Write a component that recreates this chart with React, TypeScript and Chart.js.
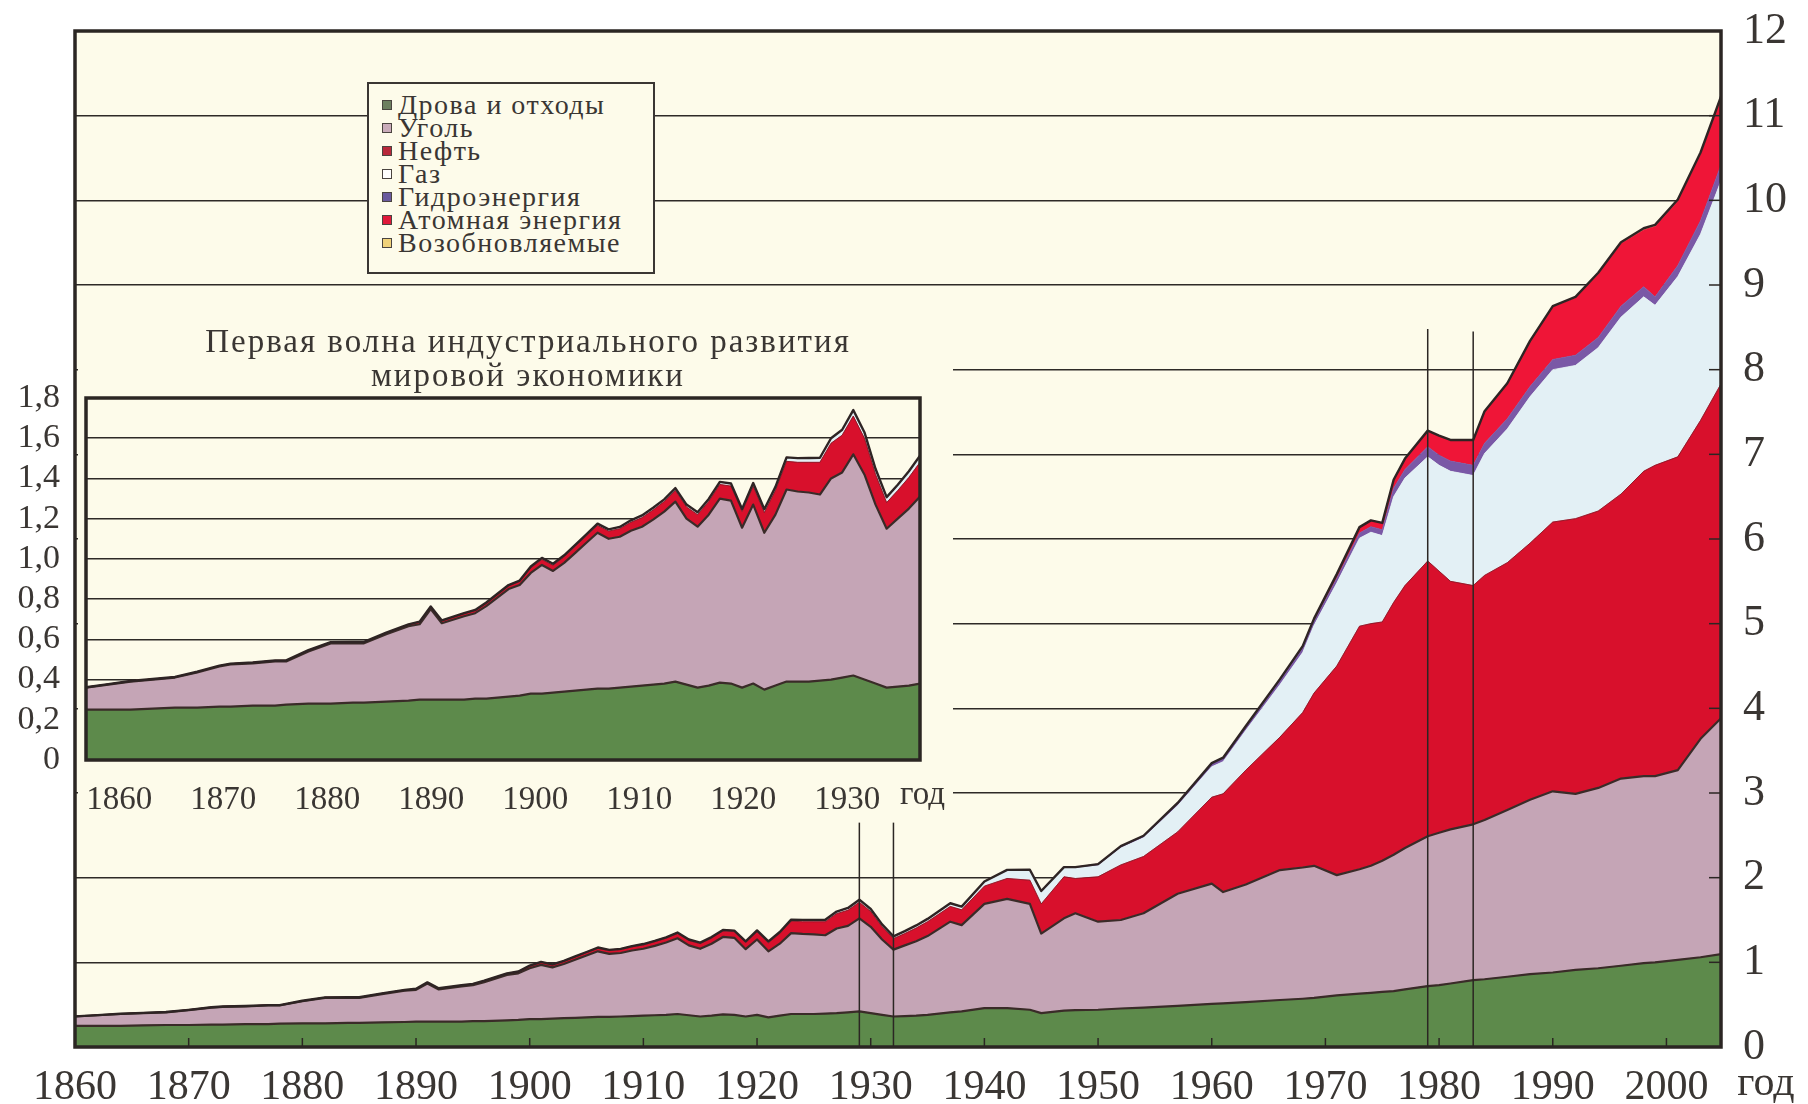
import React, { useEffect, useRef } from 'react';
import { Chart, registerables } from 'chart.js';

Chart.register(...registerables);

// ---------- data (billion t oil equivalent, stacked layers) ----------
const YEARS = [
  1860, 1862, 1864, 1866, 1868, 1870, 1872, 1873, 1875, 1877,
  1878, 1880, 1882, 1884, 1885, 1887, 1889, 1890, 1891, 1892,
  1894, 1895, 1896, 1898, 1899, 1900, 1901, 1902, 1903, 1904,
  1905, 1906, 1907, 1908, 1909, 1910, 1911, 1912, 1913, 1914,
  1915, 1916, 1917, 1918, 1919, 1920, 1921, 1922, 1923, 1924,
  1925, 1926, 1927, 1928, 1929, 1930, 1931, 1932, 1933, 1934,
  1935, 1937, 1938, 1940, 1942, 1944, 1945, 1947, 1948, 1950,
  1952, 1954, 1957, 1960, 1961, 1963, 1966, 1968, 1969, 1971,
  1973, 1974, 1975, 1976, 1977, 1979, 1980, 1981, 1983, 1984,
  1986, 1988, 1990, 1992, 1994, 1996, 1998, 1999, 2001, 2003,
  2005,
];

const WOOD = [
  0.25, 0.25, 0.25, 0.255, 0.26, 0.26, 0.265, 0.265, 0.27, 0.27,
  0.275, 0.28, 0.28, 0.285, 0.285, 0.29, 0.295, 0.3, 0.3, 0.3,
  0.3, 0.305, 0.305, 0.315, 0.32, 0.33, 0.33, 0.335, 0.34, 0.345,
  0.35, 0.355, 0.355, 0.36, 0.365, 0.37, 0.375, 0.38, 0.39, 0.375,
  0.36, 0.37, 0.385, 0.38, 0.36, 0.38, 0.35, 0.37, 0.39, 0.39,
  0.39, 0.395, 0.4, 0.41, 0.42, 0.4, 0.38, 0.36, 0.365, 0.37,
  0.38, 0.41, 0.42, 0.46, 0.46, 0.44, 0.4, 0.43, 0.435, 0.44,
  0.455, 0.465, 0.485, 0.51, 0.515, 0.53, 0.555, 0.57, 0.58, 0.61,
  0.63, 0.64, 0.65, 0.66, 0.68, 0.72, 0.73, 0.75, 0.79, 0.8,
  0.83, 0.86, 0.88, 0.91, 0.93, 0.96, 0.99, 1.0, 1.03, 1.06,
  1.1,
];

const COAL = [
  0.11, 0.125, 0.14, 0.145, 0.15, 0.175, 0.2, 0.21, 0.21, 0.22,
  0.215, 0.26, 0.3, 0.295, 0.295, 0.335, 0.37, 0.375, 0.45, 0.38,
  0.415, 0.425, 0.46, 0.535, 0.55, 0.6, 0.64, 0.605, 0.64, 0.685,
  0.73, 0.775, 0.745, 0.75, 0.775, 0.79, 0.82, 0.855, 0.895, 0.825,
  0.8, 0.85, 0.915, 0.91, 0.795, 0.89, 0.78, 0.85, 0.955, 0.945,
  0.94, 0.925, 1.0, 1.02, 1.1, 1.02, 0.89, 0.79, 0.835, 0.88,
  0.93, 1.07, 1.02, 1.23, 1.29, 1.25, 0.94, 1.09, 1.145, 1.04,
  1.045, 1.115, 1.325, 1.42, 1.315, 1.39, 1.535, 1.55, 1.56, 1.42,
  1.47, 1.5, 1.55, 1.61, 1.67, 1.77, 1.8, 1.82, 1.84, 1.88,
  1.97, 2.06, 2.14, 2.08, 2.13, 2.21, 2.21, 2.2, 2.24, 2.58,
  2.81,
];

const OIL = [
  0.002, 0.002, 0.003, 0.003, 0.003, 0.004, 0.004, 0.004, 0.005, 0.005,
  0.005, 0.006, 0.006, 0.007, 0.007, 0.008, 0.009, 0.01, 0.01, 0.011,
  0.012, 0.013, 0.014, 0.016, 0.018, 0.025, 0.027, 0.028, 0.03, 0.032,
  0.034, 0.036, 0.038, 0.04, 0.042, 0.045, 0.048, 0.05, 0.055, 0.058,
  0.06, 0.065, 0.07, 0.072, 0.08, 0.09, 0.1, 0.12, 0.14, 0.145,
  0.15, 0.16, 0.175, 0.185, 0.19, 0.18, 0.15, 0.13, 0.14, 0.155,
  0.17, 0.18, 0.18, 0.21, 0.24, 0.28, 0.35, 0.49, 0.41, 0.53,
  0.65, 0.67, 0.73, 1.02, 1.16, 1.35, 1.57, 1.83, 2.04, 2.47,
  2.87, 2.86, 2.82, 2.98, 3.1, 3.25, 3.09, 2.93, 2.82, 2.89,
  2.92, 3.03, 3.18, 3.25, 3.27, 3.36, 3.6, 3.67, 3.7, 3.76,
  3.97,
];

const GAS = [
  0, 0, 0, 0, 0, 0, 0, 0, 0, 0,
  0, 0, 0, 0, 0, 0, 0, 0.002, 0.002, 0.002,
  0.002, 0.002, 0.003, 0.003, 0.003, 0.004, 0.005, 0.005, 0.005, 0.005,
  0.005, 0.006, 0.006, 0.006, 0.007, 0.008, 0.008, 0.008, 0.009, 0.009,
  0.009, 0.01, 0.01, 0.01, 0.01, 0.012, 0.012, 0.013, 0.015, 0.016,
  0.017, 0.018, 0.02, 0.022, 0.025, 0.025, 0.023, 0.022, 0.024, 0.026,
  0.028, 0.03, 0.03, 0.045, 0.09, 0.11, 0.14, 0.1, 0.12, 0.13,
  0.2, 0.22, 0.31, 0.36, 0.38, 0.47, 0.62, 0.71, 0.8, 0.98,
  1.04, 1.08, 1.02, 1.25, 1.27, 1.23, 1.25, 1.3, 1.3, 1.44,
  1.58, 1.73, 1.8, 1.81, 1.93, 2.09, 2.06, 1.89, 2.13, 2.2,
  2.42,
];

const HYDRO = [
  0, 0, 0, 0, 0, 0, 0, 0, 0, 0,
  0, 0, 0, 0, 0, 0, 0, 0.001, 0.001, 0.001,
  0.001, 0.001, 0.001, 0.001, 0.001, 0.003, 0.003, 0.003, 0.003, 0.003,
  0.003, 0.003, 0.003, 0.003, 0.003, 0.003, 0.003, 0.003, 0.003, 0.003,
  0.003, 0.003, 0.003, 0.003, 0.003, 0.005, 0.005, 0.005, 0.005, 0.005,
  0.005, 0.005, 0.005, 0.005, 0.005, 0.005, 0.005, 0.005, 0.005, 0.005,
  0.005, 0.008, 0.008, 0.01, 0.012, 0.013, 0.013, 0.015, 0.015, 0.02,
  0.022, 0.025, 0.03, 0.035, 0.037, 0.04, 0.045, 0.05, 0.05, 0.055,
  0.06, 0.065, 0.07, 0.1, 0.1, 0.12, 0.12, 0.12, 0.12, 0.12,
  0.12, 0.12, 0.12, 0.12, 0.12, 0.13, 0.12, 0.1, 0.13, 0.16,
  0.19,
];

const NUCLEAR = [
  0, 0, 0, 0, 0, 0, 0, 0, 0, 0,
  0, 0, 0, 0, 0, 0, 0, 0, 0, 0,
  0, 0, 0, 0, 0, 0, 0, 0, 0, 0,
  0, 0, 0, 0, 0, 0, 0, 0, 0, 0,
  0, 0, 0, 0, 0, 0, 0, 0, 0, 0,
  0, 0, 0, 0, 0, 0, 0, 0, 0, 0,
  0, 0, 0, 0, 0, 0, 0, 0, 0, 0,
  0, 0, 0.003, 0.008, 0.01, 0.012, 0.02, 0.025, 0.03, 0.05,
  0.07, 0.075, 0.08, 0.1, 0.13, 0.19, 0.23, 0.25, 0.3, 0.38,
  0.42, 0.54, 0.62, 0.68, 0.75, 0.74, 0.67, 0.83, 0.76, 0.78,
  0.78,
];

const RENEWABLES = [
  0, 0, 0, 0, 0, 0, 0, 0, 0, 0,
  0, 0, 0, 0, 0, 0, 0, 0, 0, 0,
  0, 0, 0, 0, 0, 0, 0, 0, 0, 0,
  0, 0, 0, 0, 0, 0, 0, 0, 0, 0,
  0, 0, 0, 0, 0, 0, 0, 0, 0, 0,
  0, 0, 0, 0, 0, 0, 0, 0, 0, 0,
  0, 0, 0, 0, 0, 0, 0, 0, 0, 0,
  0, 0, 0, 0, 0, 0, 0, 0, 0, 0,
  0, 0, 0, 0, 0, 0, 0, 0, 0, 0,
  0, 0, 0.01, 0.01, 0.015, 0.015, 0.02, 0.02, 0.02, 0.025,
  0.03,
];

const SERIES = [WOOD, COAL, OIL, GAS, HYDRO, NUCLEAR, RENEWABLES];
const SERIES_LABELS = [
  'Дрова и отходы',
  'Уголь',
  'Нефть',
  'Газ',
  'Гидроэнергия',
  'Атомная энергия',
  'Возобновляемые',
];
const FILL_COLORS = ['#5d8a4b', '#c5a5b6', '#d8102c', '#e3f0f5', '#7a58a6', '#ef1537', '#efcf6e'];
const LEGEND_COLORS = ['#6d7f60', '#c9abba', '#b8283a', '#ffffff', '#6a5a9e', '#e0183a', '#f0d27a'];

const MAIN_X_TICKS = [1860, 1870, 1880, 1890, 1900, 1910, 1920, 1930, 1940, 1950, 1960, 1970, 1980, 1990, 2000];
const MAIN_Y_TICKS = [0, 1, 2, 3, 4, 5, 6, 7, 8, 9, 10, 11, 12];
const INSET_X_TICKS = [1860, 1870, 1880, 1890, 1900, 1910, 1920, 1930];
const INSET_Y_TICKS = [0, 0.2, 0.4, 0.6, 0.8, 1.0, 1.2, 1.4, 1.6, 1.8];
const MARKER_YEARS = [1929, 1932, 1979, 1983];
const MARKER_TOPS = [2.65, 2.65, 8.48, 8.45];

const INSET_TITLE = ['Первая волна индустриального развития', 'мировой экономики'];
const AXIS_UNIT = 'год';

// ---------- styling ----------
const FONT = '"Liberation Serif", "Times New Roman", serif';
const INK = '#2b2623';
const TEXT = '#3a3633';
const PLOT_BG = '#fdfbea';
const CLEAR = 'rgba(0,0,0,0)';

function buildDatasets(maxYear: number) {
  const idx = YEARS.map((_, i) => i).filter((i) => YEARS[i] <= maxYear);
  return SERIES.map((vals, s) => ({
    label: SERIES_LABELS[s],
    data: idx.map((i) => ({ x: YEARS[i], y: vals[i] })),
    fill: s === 0 ? 'origin' : '-1',
    backgroundColor: FILL_COLORS[s],
    borderColor: FILL_COLORS[s],
    borderWidth: 0.8,
    pointRadius: 0,
    pointHoverRadius: 0,
    tension: 0,
  }));
}

const OUTLINES = [
  { ds: 0, w: 2.2, c: '#3a2b28' },
  { ds: 1, w: 2.2, c: '#3a2b28' },
  { ds: 2, w: 1, c: 'rgba(90,20,30,0.55)' },
  { ds: 6, w: 2.4, c: '#2e2424' },
];

function decorPlugin(kind: 'main' | 'inset') {
  return {
    id: 'decor_' + kind,
    beforeDraw(chart: any) {
      const { ctx, chartArea: a } = chart;
      ctx.save();
      ctx.fillStyle = PLOT_BG;
      ctx.fillRect(a.left, a.top, a.right - a.left, a.bottom - a.top);
      ctx.restore();
    },
    afterDatasetsDraw(chart: any) {
      const { ctx, chartArea: a } = chart;
      const xs = chart.scales.x;
      const ys = chart.scales.y;
      ctx.save();
      ctx.beginPath();
      ctx.rect(a.left, a.top, a.right - a.left, a.bottom - a.top);
      ctx.clip();
      ctx.lineJoin = 'round';
      OUTLINES.forEach((o) => {
        const meta = chart.getDatasetMeta(o.ds);
        ctx.beginPath();
        meta.data.forEach((p: any, k: number) => (k ? ctx.lineTo(p.x, p.y) : ctx.moveTo(p.x, p.y)));
        ctx.lineWidth = o.w;
        ctx.strokeStyle = o.c;
        ctx.stroke();
      });
      if (kind === 'main') {
        ctx.strokeStyle = INK;
        ctx.lineWidth = 1.5;
        MARKER_YEARS.forEach((yr, i) => {
          const x = xs.getPixelForValue(yr);
          ctx.beginPath();
          ctx.moveTo(x, ys.getPixelForValue(MARKER_TOPS[i]));
          ctx.lineTo(x, ys.getPixelForValue(0));
          ctx.stroke();
        });
        MAIN_X_TICKS.forEach((v) => {
          const x = xs.getPixelForValue(v);
          ctx.beginPath();
          ctx.moveTo(x, a.bottom);
          ctx.lineTo(x, a.bottom - 9);
          ctx.stroke();
        });
        MAIN_Y_TICKS.forEach((v) => {
          const y = ys.getPixelForValue(v);
          ctx.beginPath();
          ctx.moveTo(a.right, y);
          ctx.lineTo(a.right - 12, y);
          ctx.stroke();
        });
      }
      ctx.restore();
      ctx.save();
      ctx.strokeStyle = INK;
      ctx.lineWidth = 3.5;
      ctx.strokeRect(a.left, a.top, a.right - a.left, a.bottom - a.top);
      ctx.restore();
    },
    afterDraw(chart: any) {
      const { ctx, chartArea: a } = chart;
      ctx.save();
      ctx.fillStyle = TEXT;
      ctx.textBaseline = 'alphabetic';
      if (kind === 'main') {
        ctx.font = `42px ${FONT}`;
        ctx.textAlign = 'center';
        ctx.fillText(AXIS_UNIT, a.right + 45, a.bottom + 48);
      } else {
        ctx.font = `33px ${FONT}`;
        ctx.textAlign = 'left';
        ctx.fillText(AXIS_UNIT, 900, a.bottom + 44);
      }
      ctx.restore();
    },
  };
}

function setTicks(values: number[]) {
  return (s: any) => {
    s.ticks = values.map((v) => ({ value: v }));
  };
}

export default function App() {
  const mainRef = useRef<HTMLCanvasElement>(null);
  const insetRef = useRef<HTMLCanvasElement>(null);

  useEffect(() => {
    const main = new Chart(mainRef.current as HTMLCanvasElement, {
      type: 'line',
      data: { datasets: buildDatasets(2100) as any },
      options: {
        animation: false,
        responsive: false,
        maintainAspectRatio: false,
        events: [],
        layout: { padding: { left: 75, top: 31, right: 0, bottom: 0 } },
        plugins: { legend: { display: false }, tooltip: { enabled: false } },
        scales: {
          x: {
            type: 'linear',
            min: 1860,
            max: 2004.8,
            afterBuildTicks: setTicks(MAIN_X_TICKS),
            afterFit: (s: any) => {
              s.height = 57;
            },
            grid: { display: false },
            border: { display: false },
            ticks: {
              color: TEXT,
              font: { family: FONT, size: 42 },
              padding: 8,
              maxRotation: 0,
              autoSkip: false,
              callback: (v: any) => String(v),
            },
          },
          y: {
            position: 'right',
            stacked: true,
            min: 0,
            max: 12,
            afterBuildTicks: setTicks(MAIN_Y_TICKS),
            afterFit: (s: any) => {
              s.width = 87;
            },
            grid: { color: '#2e2a27', lineWidth: 1.6, drawTicks: true, tickLength: 20, tickColor: CLEAR },
            border: { display: false },
            ticks: {
              color: TEXT,
              font: { family: FONT, size: 44, lineHeight: 1.0 },
              padding: 2,
              autoSkip: false,
              callback: (v: any) => String(v),
            },
          },
        },
      } as any,
      plugins: [decorPlugin('main')],
    });

    const inset = new Chart(insetRef.current as HTMLCanvasElement, {
      type: 'line',
      data: { datasets: buildDatasets(1935) as any },
      options: {
        animation: false,
        responsive: false,
        maintainAspectRatio: false,
        events: [],
        layout: { padding: { left: 0, top: 20, right: 40, bottom: 0 } },
        plugins: { legend: { display: false }, tooltip: { enabled: false } },
        scales: {
          x: { type: 'linear', min: 1860, max: 1935, display: false },
          xl: {
            type: 'linear',
            position: 'bottom',
            min: 1856.8,
            max: 1937,
            afterBuildTicks: setTicks(INSET_X_TICKS),
            afterFit: (s: any) => {
              s.height = 50;
            },
            grid: { display: false },
            border: { display: false },
            ticks: {
              color: TEXT,
              font: { family: FONT, size: 33 },
              padding: 13,
              maxRotation: 0,
              autoSkip: false,
              callback: (v: any) => String(v),
            },
          },
          y: {
            position: 'left',
            stacked: true,
            min: 0,
            max: 1.8,
            afterBuildTicks: setTicks(INSET_Y_TICKS),
            afterFit: (s: any) => {
              s.width = 86;
            },
            grid: { color: '#2e2a27', lineWidth: 1.6, drawTicks: true, tickLength: 24, tickColor: CLEAR },
            border: { display: false },
            ticks: {
              color: TEXT,
              font: { family: FONT, size: 34, lineHeight: 1.0 },
              padding: 2,
              autoSkip: false,
              callback: (v: any) => (v === 0 ? '0' : Number(v).toFixed(1).replace('.', ',')),
            },
          },
        },
      } as any,
      plugins: [decorPlugin('inset')],
    });

    return () => {
      main.destroy();
      inset.destroy();
    };
  }, []);

  return (
    <div
      style={{
        position: 'fixed',
        left: 0,
        top: 0,
        width: 1808,
        height: 1104,
        background: '#ffffff',
        overflow: 'hidden',
        fontFamily: FONT,
      }}
    >
      <canvas
        ref={mainRef}
        width={1808}
        height={1104}
        style={{ position: 'absolute', left: 0, top: 0, width: 1808, height: 1104 }}
      />
      {/* background panel of the inset (hides the main grid behind it) */}
      <div
        style={{
          position: 'absolute',
          left: 78,
          top: 300,
          width: 875,
          height: 515,
          background: PLOT_BG,
        }}
      />
      {/* legend */}
      <div
        style={{
          position: 'absolute',
          left: 367,
          top: 82,
          width: 288,
          height: 192,
          boxSizing: 'border-box',
          border: '2px solid #3a3633',
          background: PLOT_BG,
          padding: '9px 0 0 13px',
        }}
      >
        {SERIES_LABELS.map((lab, i) => (
          <div
            key={lab}
            style={{ display: 'flex', alignItems: 'center', height: 23, whiteSpace: 'nowrap' }}
          >
            <span
              style={{
                display: 'inline-block',
                width: 10,
                height: 10,
                boxSizing: 'border-box',
                border: '1px solid #4a4440',
                background: LEGEND_COLORS[i],
                marginRight: 6,
                flex: 'none',
              }}
            />
            <span style={{ fontSize: 28, lineHeight: '23px', letterSpacing: 1.5, color: TEXT }}>{lab}</span>
          </div>
        ))}
      </div>
      {/* inset title */}
      <div
        style={{
          position: 'absolute',
          left: 0,
          top: 324,
          width: 1056,
          textAlign: 'center',
          fontSize: 33,
          lineHeight: '34px',
          letterSpacing: 2,
          color: TEXT,
          whiteSpace: 'nowrap',
        }}
      >
        {INSET_TITLE.map((t) => (
          <div key={t}>{t}</div>
        ))}
      </div>
      <canvas
        ref={insetRef}
        width={960}
        height={432}
        style={{ position: 'absolute', left: 0, top: 378, width: 960, height: 432 }}
      />
    </div>
  );
}
